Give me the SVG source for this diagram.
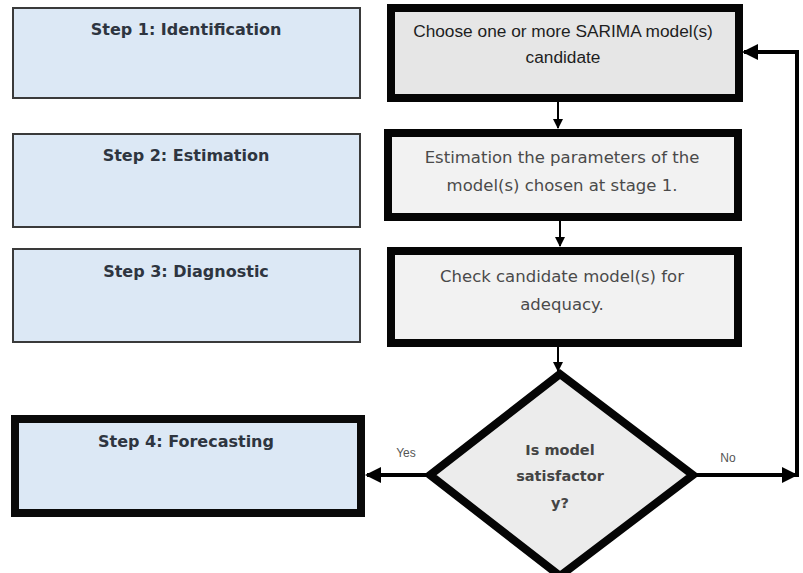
<svg xmlns="http://www.w3.org/2000/svg" width="803" height="573" viewBox="0 0 803 573">
<style>
.step{fill:#dce8f5;stroke:#3a3a3a;stroke-width:2}
.step4{fill:#dce8f5;stroke:#0a0a0a;stroke-width:8}
.proc{stroke:#050505;stroke-width:8}
.st{font-family:"DejaVu Sans",sans-serif;font-weight:bold;font-size:16px;fill:#2e3540;text-anchor:middle}
.pt{font-family:"Liberation Sans",Arial,sans-serif;font-size:17.3px;fill:#1e1e1e;text-anchor:middle}
.pt2{font-family:"DejaVu Sans",sans-serif;font-size:16.5px;fill:#4a4a4a;text-anchor:middle}
.dt{font-family:"DejaVu Sans",sans-serif;font-weight:bold;font-size:14.5px;fill:#444;text-anchor:middle}
.lbl{font-family:"Liberation Sans",Arial,sans-serif;font-size:12px;fill:#555;text-anchor:middle}
.thin{stroke:#000;stroke-width:2;fill:none}
.thick{stroke:#000;stroke-width:4;fill:none}
</style>
<defs>
<marker id="ah" markerWidth="5" markerHeight="5" refX="4.5" refY="2.5" orient="auto" markerUnits="strokeWidth"><path d="M0,0 L5,2.5 L0,5 z" fill="#000"/></marker>
<marker id="ah2" markerWidth="4" markerHeight="4" refX="3.5" refY="2" orient="auto" markerUnits="strokeWidth"><path d="M0,0 L4,2 L0,4 z" fill="#000"/></marker>
</defs>
<rect width="803" height="573" fill="#fff"/>
<g id="step1"><rect class="step" x="13" y="8" width="347" height="90"/><text class="st" x="186" y="35">Step 1: Identification</text></g>
<g id="step2"><rect class="step" x="13" y="134" width="347" height="93"/><text class="st" x="186" y="161">Step 2: Estimation</text></g>
<g id="step3"><rect class="step" x="13" y="249" width="347" height="93"/><text class="st" x="186" y="277">Step 3: Diagnostic</text></g>
<g id="step4"><rect class="step4" x="15" y="419" width="346" height="94"/><text class="st" x="186" y="447">Step 4: Forecasting</text></g>
<g id="choose"><rect class="proc" fill="#e6e6e6" x="391" y="8" width="348" height="90"/><text class="pt" x="563" y="37">Choose one or more SARIMA model(s)</text><text class="pt" x="563" y="63">candidate</text></g>
<g id="estimate"><rect class="proc" fill="#f2f2f2" x="388" y="133" width="350" height="84"/><text class="pt2" x="562" y="163">Estimation the parameters of the</text><text class="pt2" x="562" y="191">model(s) chosen at stage 1.</text></g>
<g id="check"><rect class="proc" fill="#f2f2f2" x="391" y="251" width="347" height="92"/><text class="pt2" x="562" y="282">Check candidate model(s) for</text><text class="pt2" x="562" y="310">adequacy.</text></g>
<g id="decision"><polygon points="560,374 430,475 560,576 693,475" fill="#ececec" stroke="#050505" stroke-width="8" stroke-linejoin="miter"/><text class="dt" x="560" y="455">Is model</text><text class="dt" x="560" y="481">satisfactor</text><text class="dt" x="560" y="508">y?</text></g>
<g id="connectors">
<line class="thin" x1="558" y1="102" x2="558" y2="128" marker-end="url(#ah)"/>
<line class="thin" x1="560" y1="221" x2="560" y2="246" marker-end="url(#ah)"/>
<line class="thin" x1="558" y1="347" x2="558" y2="371" marker-end="url(#ah)"/>
<line class="thick" x1="428" y1="475" x2="367" y2="475" marker-end="url(#ah2)"/>
<line class="thick" x1="695" y1="475" x2="796" y2="475" marker-end="url(#ah2)"/>
<polyline class="thick" points="797,477 797,52 744,52" marker-end="url(#ah2)"/>
<text class="lbl" x="406" y="457">Yes</text>
<text class="lbl" x="728" y="462">No</text>
</g>
</svg>
